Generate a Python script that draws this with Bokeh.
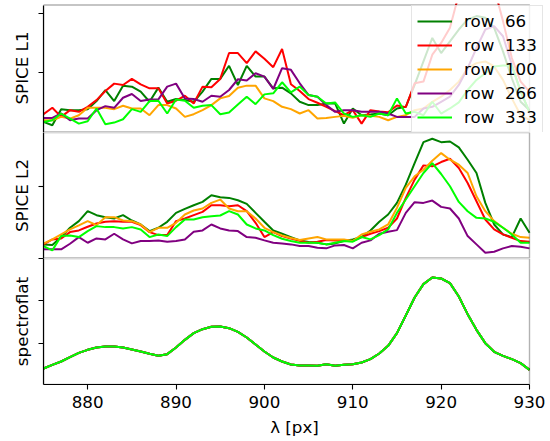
from bokeh.plotting import figure
from bokeh.layouts import column
from bokeh.models import Range1d, FixedTicker, CustomJSTickFormatter, Legend, LegendItem, BoxAnnotation
from bokeh.embed import file_html
from bokeh.resources import INLINE

# ---------------- data ----------------
lam = list(range(875, 931))

row_labels = ["row  66", "row  133", "row  100", "row  266", "row  333"]
row_colors = ["green", "red", "orange", "purple", "lime"]

# SPICE L1 (arbitrary units)
l1_row66 = [30, 20, 68, 65, 65, 68, 92, 125, 92, 138,
            135, 120, 90, 132, 90, 98, 95, 90, 120, 158,
            158, 197, 140, 197, 165, 165, 130, 132, 115, 90,
            80, 80, 85, 85, 25, 70, 50, 52, 55, 50,
            70, 75, 140, 210, 280, 235, 270, 305, 335, 345,
            340, 310, 240, 160, 90, 65]
l1_row133 = [53, 72, 45, 65, 60, 75, 95, 122, 144, 140,
             158, 142, 130, 130, 85, 93, 108, 85, 135, 133,
             158, 235, 235, 205, 240, 218, 193, 247, 142, 122,
             98, 87, 75, 62, 50, 65, 25, 65, 61, 59,
             79, 74, 145, 150, 230, 265, 310, 410, 450, 470,
             460, 430, 330, 220, 150, 120]
l1_row100 = [35, 35, 45, 40, 50, 72, 72, 72, 68, 78,
             70, 70, 50, 80, 80, 70, 45, 53, 65, 80,
             100, 107, 132, 138, 138, 100, 92, 75, 68, 55,
             65, 40, 42, 45, 48, 42, 50, 48, 45, 35,
             45, 50, 65, 70, 90, 105, 125, 150, 190, 205,
             210, 195, 155, 100, 50, 35]
l1_row266 = [42, 42, 55, 35, 40, 40, 65, 77, 72, 102,
             113, 92, 97, 97, 135, 144, 100, 98, 90, 108,
             105, 125, 157, 153, 175, 165, 128, 190, 185, 145,
             110, 105, 80, 60, 65, 65, 60, 60, 60, 55,
             45, 45, 45, 70, 75, 90, 105, 140, 190, 250,
             305, 315, 285, 200, 120, 60]
l1_row333 = [30, 35, 55, 40, 25, 32, 70, 23, 28, 38,
             68, 60, 92, 93, 55, 97, 93, 72, 78, 80,
             53, 58, 82, 105, 83, 112, 115, 148, 118, 135,
             110, 105, 85, 88, 55, 45, 50, 45, 55, 50,
             100, 55, 60, 50, 90, 55, 70, 88, 125, 155,
             175, 195, 198, 198, 120, 60]

# SPICE L2 (arbitrary units)
l2_row66 = [41, 39, 63, 91, 111, 141, 129, 123, 119, 129,
            113, 101, 81, 91, 109, 136, 148, 159, 169, 189,
            183, 181, 174, 163, 136, 109, 83, 73, 63, 53,
            48, 46, 41, 44, 51, 56, 63, 83, 109, 131,
            166, 221, 286, 349, 359, 349, 351, 333, 296, 256,
            166, 101, 71, 63, 119, 76]
l2_row133 = [41, 56, 59, 78, 83, 94, 104, 109, 111, 109,
             109, 99, 78, 69, 69, 111, 119, 129, 139, 159,
             159, 156, 159, 141, 106, 63, 78, 66, 59, 52,
             46, 49, 54, 53, 53, 51, 63, 73, 81, 91,
             119, 181, 236, 279, 276, 289, 299, 271, 226, 171,
             116, 86, 71, 61, 51, 49]
l2_row100 = [43, 56, 71, 86, 98, 111, 99, 123, 123, 113,
             111, 101, 78, 91, 91, 106, 131, 143, 149, 166,
             176, 149, 141, 141, 119, 91, 78, 68, 60, 54,
             59, 63, 56, 56, 56, 51, 71, 79, 86, 101,
             151, 211, 246, 266, 293, 316, 296, 281, 256, 186,
             141, 111, 91, 73, 63, 61]
l2_row266 = [26, 26, 26, 43, 63, 46, 59, 56, 73, 56,
             44, 51, 51, 53, 49, 51, 56, 79, 83, 101,
             89, 83, 81, 63, 61, 53, 46, 44, 41, 36,
             36, 31, 29, 38, 39, 29, 46, 53, 73, 79,
             84, 136, 168, 166, 173, 154, 149, 119, 66, 41,
             16, 19, 29, 36, 34, 29]
l2_row333 = [36, 23, 66, 68, 63, 81, 96, 93, 93, 89,
             93, 86, 63, 71, 66, 93, 116, 116, 123, 126,
             128, 141, 131, 101, 89, 83, 69, 58, 51, 46,
             46, 46, 41, 46, 51, 49, 63, 56, 69, 86,
             136, 176, 216, 256, 286, 253, 216, 169, 141, 121,
             119, 109, 91, 71, 46, 46]

# spectroflat (same for every row)
spectroflat = [48, 59, 69, 82, 95, 104, 111, 114, 114, 111,
               105, 99, 92, 86, 91, 111, 134, 154, 166, 173,
               174, 169, 158, 141, 120, 99, 81, 69, 60, 57,
               57, 56, 61, 56, 59, 61, 66, 76, 93, 116,
               154, 207, 261, 301, 321, 318, 304, 264, 211, 164,
               124, 98, 86, 76, 64, 44]

x_ticks = [880, 890, 900, 910, 920, 930]
l1_ticks = [0, 176, 352]
l2_ticks = [216]
flat_ticks = [123, 251, 378]

X_MIN, X_MAX = 875, 930
Y_MIN, Y_MAX = 0, 378

FONT = "DejaVu Sans"
FS = "16.7px"

FRAME_W = 486          # width in px of the axes box
px_per_unit = FRAME_W / (X_MAX - X_MIN)
OVERHANG = 16          # the legend sticks out past the right spine by this many px

# canvas frame is a bit wider than the axes box so the legend is not clipped
xr = Range1d(X_MIN, X_MAX + OVERHANG / px_per_unit)
RIGHT_BORDER = 550 - 43 - FRAME_W - OVERHANG


def make_fig(height, top, bottom, pad_top, pad_bottom, ylabel, yticks, with_xaxis):
    frame_h = height - top - bottom
    u_per_px = (Y_MAX - Y_MIN) / (frame_h - pad_top - pad_bottom)
    yr = Range1d(Y_MIN - pad_bottom * u_per_px, Y_MAX + pad_top * u_per_px)
    kw = dict(width=550, height=height, x_range=xr, y_range=yr,
              output_backend="svg", toolbar_location=None,
              min_border_left=43, min_border_right=RIGHT_BORDER,
              min_border_top=top, min_border_bottom=bottom)
    if not with_xaxis:
        kw["x_axis_location"] = None
    p = figure(**kw)
    p.xgrid.visible = False
    p.ygrid.visible = False
    p.outline_line_color = None
    p.background_fill_color = "white"
    p.border_fill_color = "white"
    # the axes box (spines)
    p.add_layout(BoxAnnotation(left=X_MIN, right=X_MAX, bottom=Y_MIN, top=Y_MAX,
                               fill_color=None, line_color="black", line_width=1.4))
    ax = p.yaxis[0]
    ax.bounds = (Y_MIN, Y_MAX)
    ax.ticker = FixedTicker(ticks=yticks)
    ax.formatter = CustomJSTickFormatter(code="return ''")
    ax.minor_tick_line_color = None
    ax.major_tick_out = 5
    ax.major_tick_in = 0
    ax.major_tick_line_width = 1.1
    ax.axis_line_width = 1.2
    ax.major_label_standoff = 0
    ax.axis_label = ylabel
    ax.axis_label_text_font = FONT
    ax.axis_label_text_font_size = FS
    ax.axis_label_text_font_style = "normal"
    ax.axis_label_text_color = "black"
    ax.axis_label_standoff = 7
    if with_xaxis:
        xa = p.xaxis[0]
        xa.bounds = (X_MIN, X_MAX)
        xa.ticker = FixedTicker(ticks=x_ticks)
        xa.minor_tick_line_color = None
        xa.major_tick_out = 5
        xa.major_tick_in = 0
        xa.major_tick_line_width = 1.1
        xa.axis_line_width = 1.2
        xa.major_label_text_font = FONT
        xa.major_label_text_font_size = FS
        xa.major_label_text_color = "black"
        xa.major_label_standoff = 6
        xa.axis_label = "λ [px]"
        xa.axis_label_text_font = FONT
        xa.axis_label_text_font_size = FS
        xa.axis_label_text_font_style = "normal"
        xa.axis_label_text_color = "black"
        xa.axis_label_standoff = 6
    return p


# frames: p1 3..132 (box 4.5..131.5), p2 132..258 (box 132..257.5), p3 258..384
p1 = make_fig(132, 3, 0, 1.5, 0.5, "SPICE L1", l1_ticks, False)
p2 = make_fig(126, 0, 0, 0, 0.5, "SPICE L2", l2_ticks, False)
p3 = make_fig(183, 0, 57, 0, 0, "spectroflat", flat_ticks, True)

l1_series = [l1_row66, l1_row133, l1_row100, l1_row266, l1_row333]
l2_series = [l2_row66, l2_row133, l2_row100, l2_row266, l2_row333]

renderers = []
for ys, c in zip(l1_series, row_colors):
    renderers.append(p1.line(lam, ys, line_color=c, line_width=2))
for ys, c in zip(l2_series, row_colors):
    p2.line(lam, ys, line_color=c, line_width=2)
for c in row_colors:
    p3.line(lam, spectroflat, line_color=c, line_width=2)

legend = Legend(items=[LegendItem(label=lab, renderers=[r]) for lab, r in zip(row_labels, renderers)],
                location=(368, -1))
legend.label_text_font = FONT
legend.label_text_font_size = FS
legend.label_text_color = "black"
legend.background_fill_color = "white"
legend.background_fill_alpha = 0.8
legend.border_line_color = "#cccccc"
legend.border_line_width = 1
legend.padding = 5
legend.spacing = 4
legend.glyph_width = 35
legend.glyph_height = 20
legend.label_height = 20
legend.label_width = 72
legend.label_standoff = 12
legend.margin = 0
p1.add_layout(legend)

layout = column(p1, p2, p3, spacing=0)

open("out.html", "w").write(file_html(layout, INLINE))
